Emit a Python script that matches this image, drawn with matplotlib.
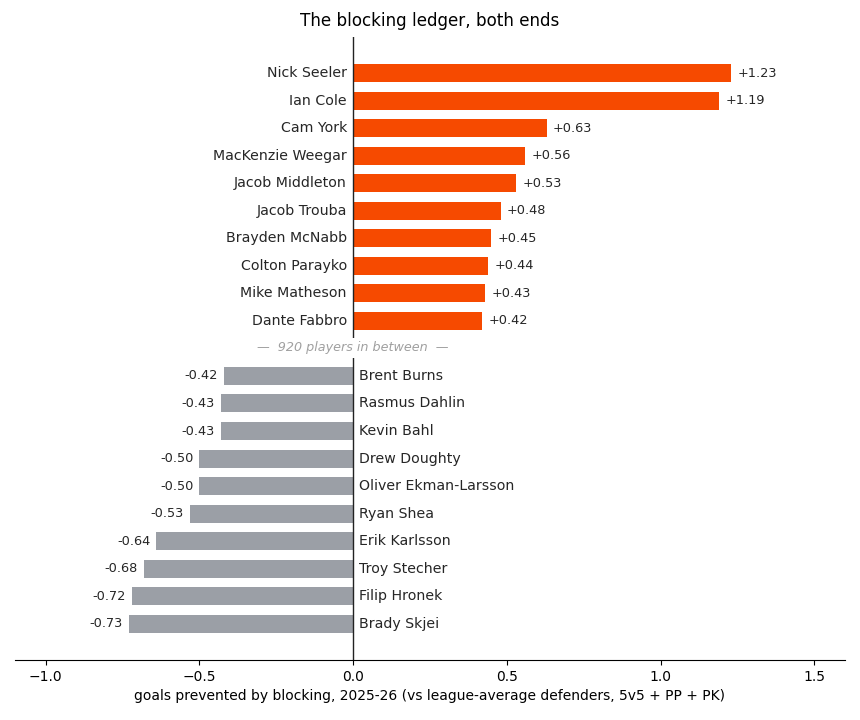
import matplotlib.pyplot as plt

top_names = ["Nick Seeler", "Ian Cole", "Cam York", "MacKenzie Weegar", "Jacob Middleton",
             "Jacob Trouba", "Brayden McNabb", "Colton Parayko", "Mike Matheson", "Dante Fabbro"]
top_vals = [1.23, 1.19, 0.63, 0.56, 0.53, 0.48, 0.45, 0.44, 0.43, 0.42]

bot_names = ["Brent Burns", "Rasmus Dahlin", "Kevin Bahl", "Drew Doughty", "Oliver Ekman-Larsson",
             "Ryan Shea", "Erik Karlsson", "Troy Stecher", "Filip Hronek", "Brady Skjei"]
bot_vals = [-0.42, -0.43, -0.43, -0.50, -0.50, -0.53, -0.64, -0.68, -0.72, -0.73]

n_between = 920

ORANGE = "#F64A00"
GRAY = "#9B9FA6"
TXT = "#262626"

fig = plt.figure(figsize=(8.6, 7.2), dpi=100)
ax1 = fig.add_axes([0.0174, 0.5306, 0.9652, 0.418])
ax2 = fig.add_axes([0.0174, 0.0833, 0.9652, 0.4195])

xlim = (-1.1, 1.6)

# top: best blockers
y1 = list(range(len(top_vals)))
ax1.barh(y1, top_vals, height=0.65, color=ORANGE)
for y, v, name in zip(y1, top_vals, top_names):
    ax1.text(-0.02, y, name, ha="right", va="center", fontsize=10.2, color=TXT)
    ax1.text(v + 0.02, y, f"+{v:.2f}", ha="left", va="center", fontsize=9.3, color=TXT)
ax1.set_ylim(9.62, -1.31)
ax1.set_xlim(*xlim)
ax1.axvline(0, color="#222222", linewidth=1)
ax1.axis("off")
ax1.set_title("The blocking ledger, both ends", fontsize=12.1, pad=8)

# bottom: worst blockers
y2 = list(range(len(bot_vals)))
ax2.barh(y2, bot_vals, height=0.65, color=GRAY)
for y, v, name in zip(y2, bot_vals, bot_names):
    ax2.text(0.02, y, name, ha="left", va="center", fontsize=10.2, color=TXT)
    ax2.text(v - 0.02, y, f"{v:.2f}".replace("\u2212", "-"), ha="right", va="center",
             fontsize=9.3, color=TXT)
ax2.set_ylim(10.31, -0.65)
ax2.set_xlim(*xlim)
ax2.axvline(0, color="#222222", linewidth=1)
for s in ["top", "right", "left"]:
    ax2.spines[s].set_visible(False)
ax2.set_yticks([])
ax2.set_xticks([-1.0, -0.5, 0.0, 0.5, 1.0, 1.5])
ax2.tick_params(axis="x", labelsize=10)
ax2.set_xlabel("goals prevented by blocking, 2025-26 (vs league-average defenders, 5v5 + PP + PK)",
               fontsize=10)

fig.text(0.4105, 0.5167, f"\u2014  {n_between} players in between  \u2014", ha="center", va="center",
         fontsize=9.2, style="italic", color="#A0A0A0")

fig.savefig("out.png", dpi=100)
